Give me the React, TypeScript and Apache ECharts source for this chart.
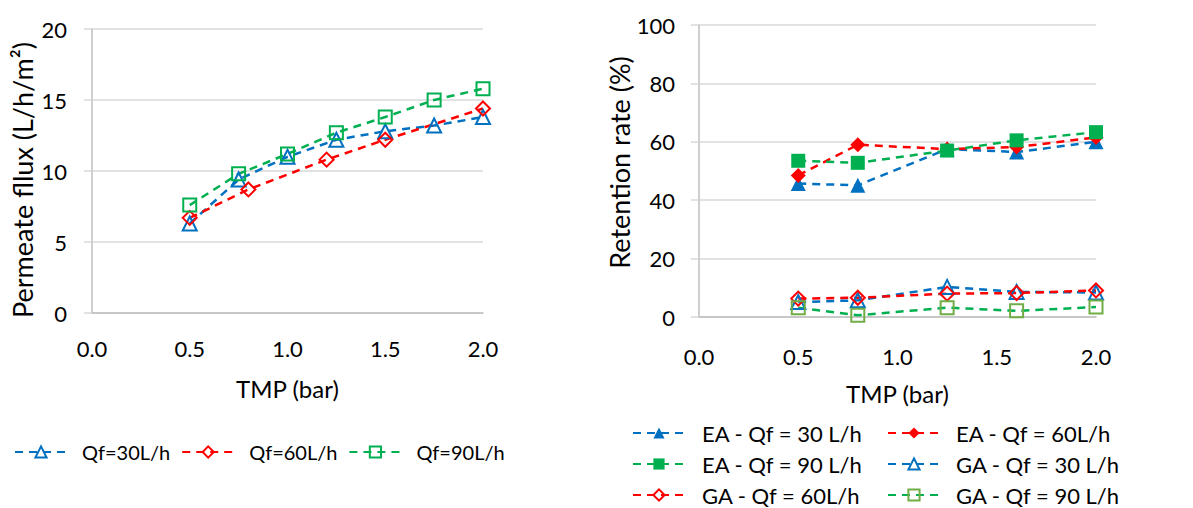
import React, { useEffect, useRef } from "react";
import * as echarts from "echarts";

// Left chart: permeate flux vs TMP
const tmpFlux30 = [0.5, 0.75, 1.0, 1.25, 1.5, 1.75, 2.0];
const flux30 = [6.3, 9.4, 11.0, 12.2, 12.8, 13.2, 13.8];
const tmpFlux60 = [0.5, 0.8, 1.2, 1.5, 2.0];
const flux60 = [6.7, 8.7, 10.8, 12.2, 14.4];
const tmpFlux90 = [0.5, 0.75, 1.0, 1.25, 1.5, 1.75, 2.0];
const flux90 = [7.6, 9.8, 11.2, 12.7, 13.8, 15.0, 15.8];

// Right chart: retention rate vs TMP
const tmpRet = [0.5, 0.8, 1.25, 1.6, 2.0];
const ea30 = [45.7, 45.1, 57.5, 56.5, 60.0];
const ea60 = [48.5, 59.0, 57.5, 58.2, 61.5];
const ea90 = [53.5, 52.8, 57.0, 60.5, 63.3];
const ga30 = [5.1, 5.7, 10.3, 8.6, 8.4];
const ga60 = [6.3, 6.6, 8.0, 8.2, 9.1];
const ga90 = [3.2, 0.6, 3.2, 2.1, 3.4];

const namesLeft = ["Qf=30L/h", "Qf=60L/h", "Qf=90L/h"];
const namesRight = [
  "EA - Qf = 30 L/h",
  "EA - Qf = 60L/h",
  "EA - Qf = 90 L/h",
  "GA - Qf = 30 L/h",
  "GA - Qf = 60L/h",
  "GA - Qf = 90 L/h",
];

const BLUE = "#0070C0";
const RED = "#FF0000";
const GREEN = "#00B050";
const OLIVE = "#70AD47";
const FONT = "Lato";

const zip = (xs: number[], ys: number[]) => xs.map((x, i) => [x, ys[i]]);

function mkSeries(
  name: string,
  xIdx: number,
  data: number[][],
  color: string,
  symbol: string,
  size: number,
  filled: boolean,
  border?: string
) {
  return {
    type: "line",
    name,
    xAxisIndex: xIdx,
    yAxisIndex: xIdx,
    data,
    symbol,
    symbolSize: size,
    showAllSymbol: true,
    lineStyle: { color, width: 2.5, type: [8, 6] },
    itemStyle: filled
      ? { color, borderWidth: 0 }
      : { color: "rgba(255,255,255,0)", borderColor: border || color, borderWidth: 2 },
    emphasis: { disabled: true },
  };
}

export default function App() {
  const ref = useRef<HTMLDivElement>(null);
  useEffect(() => {
    document.body.style.margin = "0";
    const chart = echarts.init(ref.current!, null, { renderer: "svg" });
    const axisText = { color: "#000", fontFamily: FONT, fontSize: 22 };
    const xAxisBase = {
      type: "value",
      min: 0,
      max: 2,
      interval: 0.5,
      axisLine: { show: true, lineStyle: { color: "#BFBFBF", width: 1.5 } },
      axisTick: { show: false },
      splitLine: { show: false },
      axisLabel: { ...axisText, formatter: (v: number) => v.toFixed(1) },
      name: "TMP (bar)",
      nameLocation: "middle",
      nameTextStyle: { ...axisText, fontSize: 24 },
    };
    const yAxisBase = {
      type: "value",
      min: 0,
      axisLine: { show: true, lineStyle: { color: "#BFBFBF", width: 1.5 } },
      axisTick: { show: true, inside: false, length: 8, lineStyle: { color: "#D9D9D9", width: 1.5 } },
      splitLine: { show: true, lineStyle: { color: "#D9D9D9", width: 1.5 } },
      nameLocation: "middle",
    };
    const legendCommon = {
      orient: "vertical",
      itemWidth: 52,
      itemHeight: 14,
      itemGap: 9,
      padding: 0,
      height: 110,
      selectedMode: false,
    };
    chart.setOption({
      animation: false,
      backgroundColor: "#fff",
      grid: [
        { left: 92, top: 29, width: 391, height: 284 },
        { left: 699, top: 25, width: 397, height: 292 },
      ],
      xAxis: [
        { ...xAxisBase, gridIndex: 0, nameGap: 63, axisLabel: { ...xAxisBase.axisLabel, margin: 24 } },
        { ...xAxisBase, gridIndex: 1, nameGap: 64, axisLabel: { ...xAxisBase.axisLabel, margin: 28 } },
      ],
      yAxis: [
        {
          ...yAxisBase,
          gridIndex: 0,
          max: 20,
          interval: 5,
          name: "Permeate fllux (L/h/m²)",
          nameGap: 56,
          nameTextStyle: { ...axisText, fontSize: 27, padding: [0, 18, 0, 0] },
          axisLabel: { ...axisText, margin: 25 },
        },
        {
          ...yAxisBase,
          gridIndex: 1,
          max: 100,
          interval: 20,
          name: "Retention rate (%)",
          nameGap: 62,
          nameTextStyle: { ...axisText, fontSize: 27, padding: [0, 0, 0, 17] },
          axisLabel: { ...axisText, margin: 24 },
        },
      ],
      legend: [
        {
          data: namesLeft,
          left: 14,
          top: 440,
          orient: "horizontal",
          itemWidth: 52,
          itemHeight: 14,
          itemGap: 11,
          padding: 0,
          textStyle: { color: "#000", fontFamily: FONT, fontSize: 20, lineHeight: 24, padding: [0, 0, 0, 10] },
          selectedMode: false,
        },
        {
          ...legendCommon,
          data: [namesRight[0], namesRight[2], namesRight[4]],
          left: 632,
          top: 422,
          textStyle: { color: "#000", fontFamily: FONT, fontSize: 22, lineHeight: 22, padding: [0, 0, 0, 12] },
        },
        {
          ...legendCommon,
          data: [namesRight[1], namesRight[3], namesRight[5]],
          left: 887,
          top: 422,
          textStyle: { color: "#000", fontFamily: FONT, fontSize: 22, lineHeight: 22, padding: [0, 0, 0, 11] },
        },
      ],
      series: [
        mkSeries(namesLeft[0], 0, zip(tmpFlux30, flux30), BLUE, "triangle", 14, false),
        mkSeries(namesLeft[1], 0, zip(tmpFlux60, flux60), RED, "diamond", 14, false),
        mkSeries(namesLeft[2], 0, zip(tmpFlux90, flux90), GREEN, "rect", 13, false),
        mkSeries(namesRight[0], 1, zip(tmpRet, ea30), BLUE, "triangle", 15, true),
        mkSeries(namesRight[1], 1, zip(tmpRet, ea60), RED, "diamond", 15, true),
        mkSeries(namesRight[2], 1, zip(tmpRet, ea90), GREEN, "rect", 14, true),
        mkSeries(namesRight[3], 1, zip(tmpRet, ga30), BLUE, "triangle", 14, false),
        mkSeries(namesRight[4], 1, zip(tmpRet, ga60), RED, "diamond", 14, false),
        mkSeries(namesRight[5], 1, zip(tmpRet, ga90), GREEN, "rect", 13, false, OLIVE),
      ],
    });
    return () => chart.dispose();
  }, []);
  return <div ref={ref} style={{ width: 1193, height: 508 }} />;
}
